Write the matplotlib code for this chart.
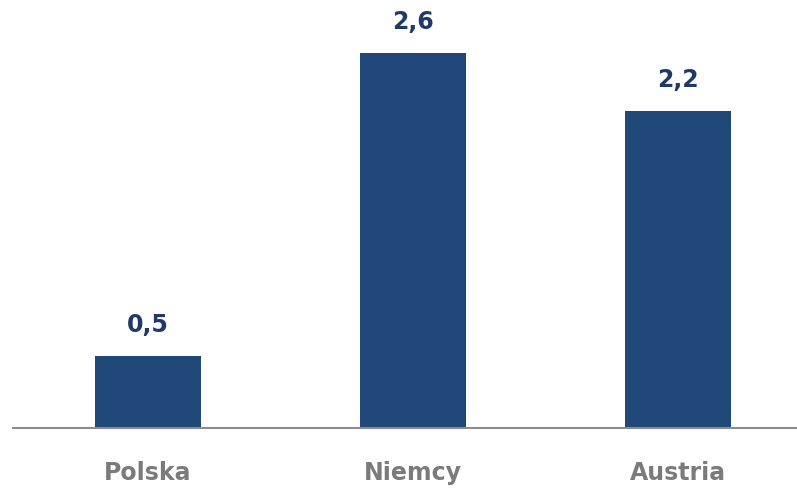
import matplotlib.pyplot as plt

# dane
kraje = ['Polska', 'Niemcy', 'Austria']
wartosci = [0.5, 2.6, 2.2]
etykiety = ['0,5', '2,6', '2,2']

fig = plt.figure(figsize=(7.97, 4.9), dpi=100)
ax = fig.add_axes([13 / 797, 62 / 490, 784 / 797, 428 / 490])

x = list(range(len(kraje)))
ax.bar(x, wartosci, width=0.4, color='#1f4878')

for xi, v, lab in zip(x, wartosci, etykiety):
    ax.text(xi, v + 0.13, lab, ha='center', va='bottom', fontsize=17,
            fontweight='bold', color='#1f3a68', family='DejaVu Sans')

ax.set_xlim(-0.51, 2.45)
ax.set_ylim(0, 2.966)
ax.set_xticks(x)
ax.set_xticklabels(kraje, fontsize=17, fontweight='bold', color='#7b7b7b')
ax.tick_params(axis='x', length=0, pad=24)
ax.set_yticks([])
for s in ['top', 'right', 'left']:
    ax.spines[s].set_visible(False)
ax.spines['bottom'].set_color('#8c8c8c')
ax.spines['bottom'].set_linewidth(1.5)

plt.savefig('out.png', dpi=100)
plt.close()
